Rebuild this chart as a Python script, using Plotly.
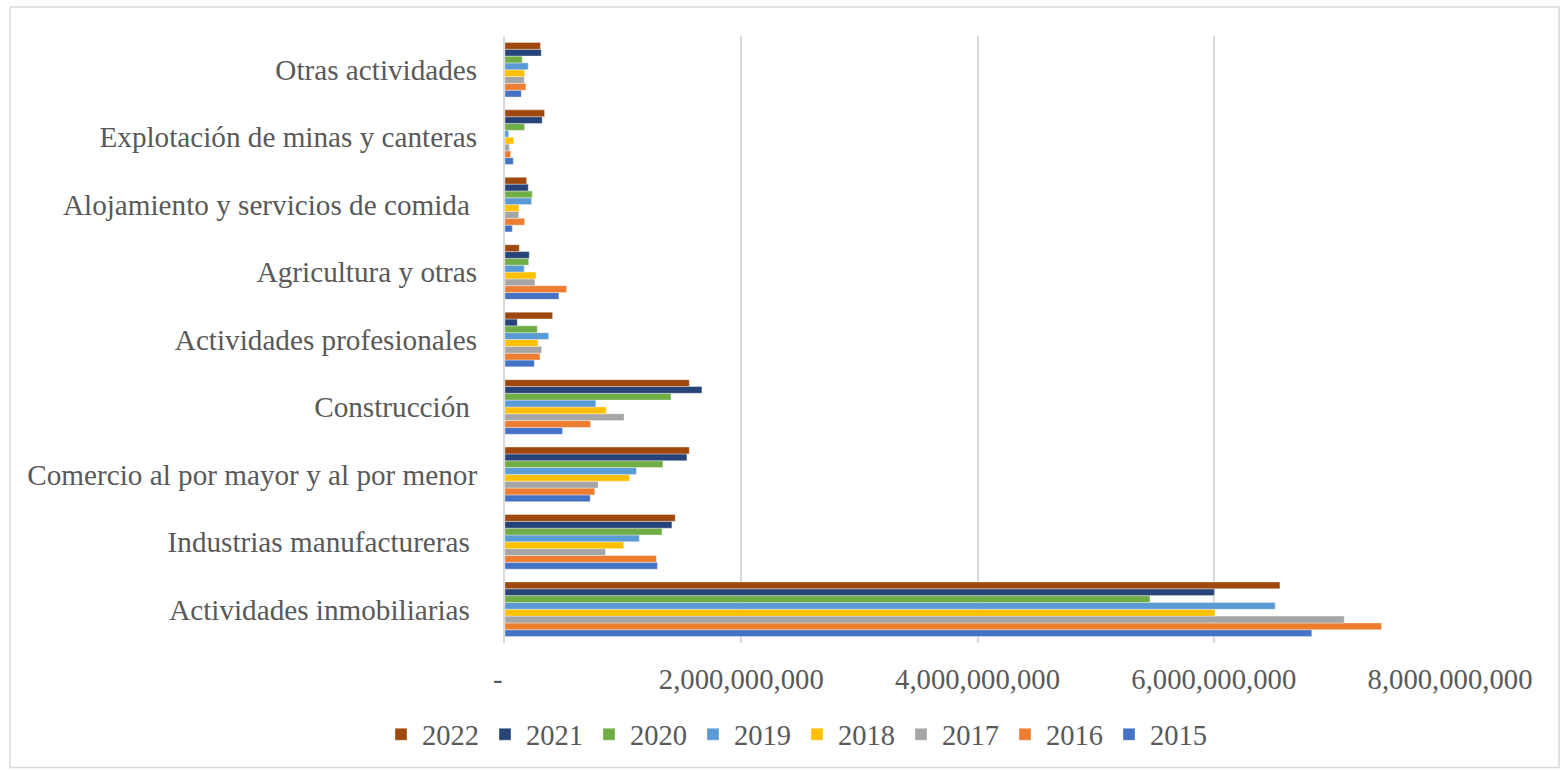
import plotly.graph_objects as go

categories = [
    "Actividades inmobiliarias\u00a0",
    "Industrias manufactureras\u00a0",
    "Comercio al por mayor y al por menor",
    "Construcción\u00a0",
    "Actividades profesionales",
    "Agricultura y otras",
    "Alojamiento y servicios de comida\u00a0",
    "Explotación de minas y canteras",
    "Otras actividades",
]

years = ["2015", "2016", "2017", "2018", "2019", "2020", "2021", "2022"]

v2015 = [6.83e9, 1.29e9, 0.721e9, 0.487e9, 0.248e9, 0.456e9, 0.062e9, 0.070e9, 0.138e9]
v2016 = [7.42e9, 1.281e9, 0.760e9, 0.724e9, 0.296e9, 0.521e9, 0.166e9, 0.048e9, 0.177e9]
v2017 = [7.105e9, 0.850e9, 0.788e9, 1.008e9, 0.310e9, 0.253e9, 0.116e9, 0.037e9, 0.163e9]
v2018 = [6.01e9, 1.005e9, 1.053e9, 0.856e9, 0.279e9, 0.262e9, 0.118e9, 0.073e9, 0.166e9]
v2019 = [6.52e9, 1.137e9, 1.112e9, 0.769e9, 0.369e9, 0.163e9, 0.225e9, 0.031e9, 0.197e9]
v2020 = [5.46e9, 1.329e9, 1.337e9, 1.405e9, 0.273e9, 0.200e9, 0.231e9, 0.166e9, 0.146e9]
v2021 = [6.005e9, 1.413e9, 1.540e9, 1.667e9, 0.104e9, 0.205e9, 0.197e9, 0.315e9, 0.307e9]
v2022 = [6.56e9, 1.441e9, 1.560e9, 1.560e9, 0.403e9, 0.121e9, 0.183e9, 0.335e9, 0.300e9]

series = [v2015, v2016, v2017, v2018, v2019, v2020, v2021, v2022]
colors = ["#4472C4", "#ED7D31", "#A5A5A5", "#FFC000", "#5B9BD5", "#70AD47", "#264478", "#9E480E"]

x_ticks = [0, 2e9, 4e9, 6e9, 8e9]
x_ticktext = ["-\u00a0\u00a0", "2,000,000,000", "4,000,000,000", "6,000,000,000", "8,000,000,000"]

FONT = "Liberation Serif, Times New Roman, serif"
TEXT = "#595959"
GRID = "#D9D9D9"

W, H = 1560, 772
ML, MR, MT, MB = 505, 110, 36, 127
PW, PH = W - ML - MR, H - MT - MB

fig = go.Figure()
for y, vals, c in zip(years, series, colors):
    fig.add_trace(go.Bar(
        y=categories, x=vals, name=y, orientation="h",
        marker=dict(color=c, line=dict(color="rgba(255,255,255,0.6)", width=0.6)),
    ))

fig.update_layout(
    width=W, height=H,
    margin=dict(l=ML, r=MR, t=MT, b=MB, pad=0),
    paper_bgcolor="white", plot_bgcolor="white",
    barmode="group", bargap=0.19, bargroupgap=0,
    font=dict(family=FONT, size=28.5, color=TEXT),
    legend=dict(
        orientation="h", traceorder="reversed",
        x=(796 - ML) / PW, xanchor="center",
        y=-(737 - (H - MB)) / PH, yanchor="middle",
        font=dict(family=FONT, size=28.5, color=TEXT),
        itemwidth=32,
    ),
    showlegend=True,
    xaxis=dict(
        range=[0, 8e9], tickvals=x_ticks, ticktext=x_ticktext,
        showgrid=True, gridcolor=GRID, gridwidth=2,
        zeroline=False, showline=False, ticks="",
        ticklabelstandoff=16,
        tickfont=dict(family=FONT, size=28.7, color=TEXT),
        fixedrange=True,
    ),
    yaxis=dict(
        type="category", categoryorder="array", categoryarray=categories,
        showgrid=False, showline=True, linecolor=GRID, linewidth=2,
        ticks="", ticklabelstandoff=20,
        tickfont=dict(family=FONT, size=29.2, color=TEXT),
        fixedrange=True,
    ),
    shapes=[dict(
        type="rect", xref="paper", yref="paper",
        x0=(10 - ML) / PW, x1=(1559 - ML) / PW,
        y0=-(770 - (H - MB)) / PH, y1=((H - MB) - 7) / PH,
        line=dict(color=GRID, width=1.5), fillcolor="rgba(0,0,0,0)", layer="below",
    )],
)

fig.write_html("out.html")
